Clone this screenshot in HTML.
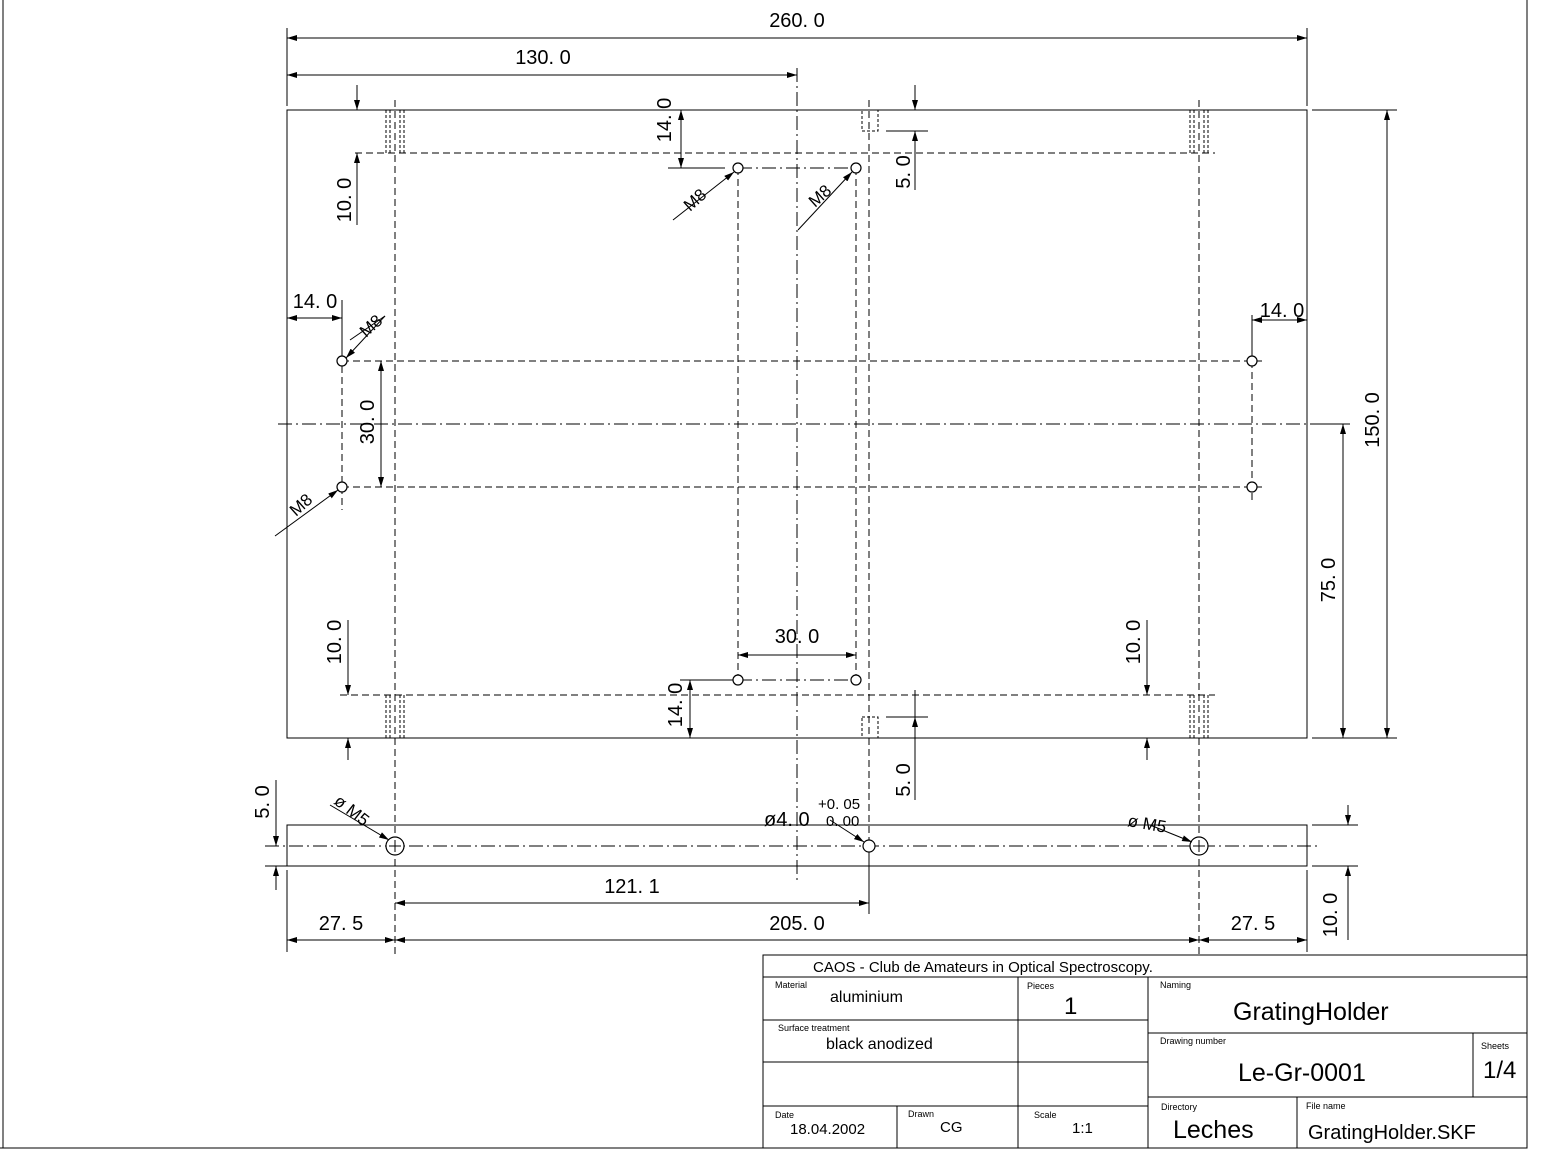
<!DOCTYPE html>
<html><head><meta charset="utf-8"><style>
html,body{margin:0;padding:0;background:#fff;}
svg{display:block;}
text{font-family:"Liberation Sans",sans-serif;fill:#000;}
</style></head><body>
<svg width="1557" height="1172" viewBox="0 0 1557 1172" xmlns="http://www.w3.org/2000/svg">
<defs>
<marker id="a" viewBox="0 0 10 6" refX="10" refY="3" markerWidth="10" markerHeight="6" orient="auto-start-reverse" markerUnits="userSpaceOnUse"><path d="M0,0L10,3L0,6Z" fill="#000"/></marker>
</defs>
<g stroke="#000" stroke-width="1" fill="none">
<!-- frame -->
<line x1="3" y1="0" x2="3" y2="1148"/><line x1="1527" y1="0" x2="1527" y2="1148"/><line x1="0" y1="1148" x2="1527" y2="1148"/>
<!-- title block -->
<rect x="763" y="955" width="764" height="193"/>
<line x1="763" y1="977" x2="1527" y2="977"/>
<line x1="763" y1="1020" x2="1148" y2="1020"/>
<line x1="763" y1="1062" x2="1148" y2="1062"/>
<line x1="763" y1="1106" x2="1148" y2="1106"/>
<line x1="1018" y1="977" x2="1018" y2="1148"/>
<line x1="1148" y1="977" x2="1148" y2="1148"/>
<line x1="897" y1="1106" x2="897" y2="1148"/>
<line x1="1148" y1="1033" x2="1527" y2="1033"/>
<line x1="1148" y1="1097" x2="1527" y2="1097"/>
<line x1="1473" y1="1033" x2="1473" y2="1097"/>
<line x1="1297" y1="1097" x2="1297" y2="1148"/>
<!-- main plate -->
<rect x="287" y="110" width="1020" height="628"/>
<rect x="287" y="825" width="1020" height="41"/>
</g>
<g stroke="#000" stroke-width="1" fill="none" stroke-dasharray="7,4">
<line x1="395" y1="100" x2="395" y2="955"/>
<line x1="1199" y1="100" x2="1199" y2="955"/>
<line x1="738" y1="168" x2="738" y2="680"/>
<line x1="856" y1="168" x2="856" y2="680"/>
<line x1="869" y1="100" x2="869" y2="840"/>
<line x1="355" y1="153" x2="1215" y2="153"/>
<line x1="340" y1="695" x2="1215" y2="695"/>
<line x1="342" y1="361" x2="1262" y2="361"/>
<line x1="342" y1="487" x2="1262" y2="487"/>
<line x1="342" y1="300" x2="342" y2="510"/>
<line x1="1252" y1="350" x2="1252" y2="500"/>
<g stroke-dasharray="3,2">
<line x1="386" y1="110" x2="386" y2="153"/><line x1="390" y1="110" x2="390" y2="153"/><line x1="400" y1="110" x2="400" y2="153"/><line x1="404" y1="110" x2="404" y2="153"/>
<line x1="1190" y1="110" x2="1190" y2="153"/><line x1="1194" y1="110" x2="1194" y2="153"/><line x1="1204" y1="110" x2="1204" y2="153"/><line x1="1208" y1="110" x2="1208" y2="153"/>
<line x1="386" y1="695" x2="386" y2="738"/><line x1="390" y1="695" x2="390" y2="738"/><line x1="400" y1="695" x2="400" y2="738"/><line x1="404" y1="695" x2="404" y2="738"/>
<line x1="1190" y1="695" x2="1190" y2="738"/><line x1="1194" y1="695" x2="1194" y2="738"/><line x1="1204" y1="695" x2="1204" y2="738"/><line x1="1208" y1="695" x2="1208" y2="738"/>
<rect x="862" y="110" width="16" height="21"/>
<rect x="862" y="717" width="16" height="21"/>
</g>
</g>
<g stroke="#000" stroke-width="1" fill="none" stroke-dasharray="14,4,2,4">
<line x1="797" y1="68" x2="797" y2="880"/>
<line x1="278" y1="424" x2="1320" y2="424"/>
<line x1="738" y1="168" x2="856" y2="168"/>
<line x1="738" y1="680" x2="856" y2="680"/>
<line x1="265" y1="846" x2="1320" y2="846"/>
</g>
<!-- holes -->
<g stroke="#000" stroke-width="1.2" fill="#fff">
<circle cx="738" cy="168" r="5"/><circle cx="856" cy="168" r="5"/>
<circle cx="342" cy="361" r="5"/><circle cx="342" cy="487" r="5"/>
<circle cx="1252" cy="361" r="5"/><circle cx="1252" cy="487" r="5"/>
<circle cx="738" cy="680" r="5"/><circle cx="856" cy="680" r="5"/>
<circle cx="395" cy="846" r="9"/><circle cx="869" cy="846" r="6"/><circle cx="1199" cy="846" r="9"/>
</g>
<g stroke="#000" stroke-width="1">
<line x1="389" y1="846" x2="401" y2="846"/><line x1="395" y1="840" x2="395" y2="852"/>
<line x1="1193" y1="846" x2="1205" y2="846"/><line x1="1199" y1="840" x2="1199" y2="852"/>
</g>
<!-- dimensions -->
<g stroke="#000" stroke-width="1" fill="none">
<line x1="287" y1="28" x2="287" y2="106"/><line x1="1307" y1="28" x2="1307" y2="106"/>
<line x1="287" y1="38" x2="1307" y2="38" marker-start="url(#a)" marker-end="url(#a)"/>
<line x1="287" y1="75" x2="797" y2="75" marker-start="url(#a)" marker-end="url(#a)"/>
<line x1="1312" y1="110" x2="1397" y2="110"/><line x1="1312" y1="738" x2="1397" y2="738"/><line x1="1312" y1="424" x2="1350" y2="424"/>
<line x1="1387" y1="110" x2="1387" y2="738" marker-start="url(#a)" marker-end="url(#a)"/>
<line x1="1343" y1="424" x2="1343" y2="738" marker-start="url(#a)" marker-end="url(#a)"/>
<line x1="357" y1="85" x2="357" y2="110" marker-end="url(#a)"/>
<line x1="357" y1="225" x2="357" y2="153" marker-end="url(#a)"/>
<line x1="348" y1="620" x2="348" y2="695" marker-end="url(#a)"/>
<line x1="348" y1="760" x2="348" y2="738" marker-end="url(#a)"/>
<line x1="1147" y1="620" x2="1147" y2="695" marker-end="url(#a)"/>
<line x1="1147" y1="760" x2="1147" y2="738" marker-end="url(#a)"/>
<line x1="681" y1="110" x2="681" y2="168" marker-start="url(#a)" marker-end="url(#a)"/>
<line x1="668" y1="168" x2="725" y2="168"/>
<line x1="915" y1="85" x2="915" y2="110" marker-end="url(#a)"/>
<line x1="915" y1="190" x2="915" y2="131" marker-end="url(#a)"/>
<line x1="886" y1="131" x2="928" y2="131"/>
<line x1="915" y1="800" x2="915" y2="717" marker-end="url(#a)"/>
<line x1="915" y1="690" x2="915" y2="717" />
<line x1="886" y1="717" x2="928" y2="717"/>
<line x1="287" y1="318" x2="342" y2="318" marker-start="url(#a)" marker-end="url(#a)"/>
<line x1="342" y1="300" x2="342" y2="355"/>
<line x1="1252" y1="320" x2="1307" y2="320" marker-start="url(#a)" marker-end="url(#a)"/>
<line x1="1252" y1="315" x2="1252" y2="355"/>
<line x1="381" y1="361" x2="381" y2="487" marker-start="url(#a)" marker-end="url(#a)"/>
<line x1="738" y1="655" x2="856" y2="655" marker-start="url(#a)" marker-end="url(#a)"/>
<line x1="690" y1="680" x2="690" y2="738" marker-start="url(#a)" marker-end="url(#a)"/>
<line x1="680" y1="680" x2="733" y2="680"/>
<line x1="276" y1="780" x2="276" y2="846" marker-end="url(#a)"/>
<line x1="276" y1="890" x2="276" y2="866" marker-end="url(#a)"/>
<line x1="265" y1="866" x2="287" y2="866"/>
<line x1="1348" y1="805" x2="1348" y2="825" marker-end="url(#a)"/>
<line x1="1348" y1="940" x2="1348" y2="866" marker-end="url(#a)"/>
<line x1="1312" y1="825" x2="1358" y2="825"/><line x1="1312" y1="866" x2="1358" y2="866"/>
<line x1="287" y1="870" x2="287" y2="952"/><line x1="1307" y1="870" x2="1307" y2="952"/>
<line x1="869" y1="852" x2="869" y2="914"/>
<line x1="395" y1="903" x2="869" y2="903" marker-start="url(#a)" marker-end="url(#a)"/>
<line x1="287" y1="940" x2="395" y2="940" marker-start="url(#a)" marker-end="url(#a)"/>
<line x1="395" y1="940" x2="1199" y2="940" marker-start="url(#a)" marker-end="url(#a)"/>
<line x1="1199" y1="940" x2="1307" y2="940" marker-start="url(#a)" marker-end="url(#a)"/>
<!-- leaders -->
<line x1="673" y1="220" x2="734" y2="172" marker-end="url(#a)"/>
<line x1="798" y1="230" x2="852" y2="172" marker-end="url(#a)"/>
<line x1="350" y1="340" x2="385" y2="316"/><line x1="385" y1="316" x2="346" y2="358" marker-end="url(#a)"/>
<line x1="275" y1="536" x2="338" y2="490" marker-end="url(#a)"/>
<line x1="330" y1="805" x2="389" y2="840" marker-end="url(#a)"/>
<line x1="830" y1="820" x2="864" y2="842" marker-end="url(#a)"/>
<line x1="1150" y1="825" x2="1192" y2="842" marker-end="url(#a)"/>
</g>
<g font-size="20">
<text x="797" y="27" text-anchor="middle">260. 0</text>
<text x="543" y="64" text-anchor="middle">130. 0</text>
<text x="315" y="308" text-anchor="middle">14. 0</text>
<text x="1282" y="317" text-anchor="middle">14. 0</text>
<text x="797" y="643" text-anchor="middle">30. 0</text>
<text x="632" y="893" text-anchor="middle">121. 1</text>
<text x="341" y="930" text-anchor="middle">27. 5</text>
<text x="797" y="930" text-anchor="middle">205. 0</text>
<text x="1253" y="930" text-anchor="middle">27. 5</text>
<text transform="translate(1379,420) rotate(-90)" text-anchor="middle">150. 0</text>
<text transform="translate(1335,580) rotate(-90)" text-anchor="middle">75. 0</text>
<text transform="translate(351,200) rotate(-90)" text-anchor="middle">10. 0</text>
<text transform="translate(341,642) rotate(-90)" text-anchor="middle">10. 0</text>
<text transform="translate(1140,642) rotate(-90)" text-anchor="middle">10. 0</text>
<text transform="translate(671,120) rotate(-90)" text-anchor="middle">14. 0</text>
<text transform="translate(682,705) rotate(-90)" text-anchor="middle">14. 0</text>
<text transform="translate(910,172) rotate(-90)" text-anchor="middle">5. 0</text>
<text transform="translate(910,780) rotate(-90)" text-anchor="middle">5. 0</text>
<text transform="translate(374,422) rotate(-90)" text-anchor="middle">30. 0</text>
<text transform="translate(269,802) rotate(-90)" text-anchor="middle">5. 0</text>
<text transform="translate(1337,915) rotate(-90)" text-anchor="middle">10. 0</text>
<text x="764" y="826">ø4. 0</text>
<text x="818" y="809" font-size="15">+0. 05</text>
<text x="826" y="826" font-size="15">0. 00</text>
<g font-size="17">
<text transform="translate(690,212) rotate(-42)">M8</text>
<text transform="translate(815,208) rotate(-42)">M8</text>
<text transform="translate(366,338) rotate(-42)">M8</text>
<text transform="translate(296,517) rotate(-42)">M8</text>
<text transform="translate(333,803) rotate(38)">ø M5</text>
<text transform="translate(1127,826) rotate(10)">ø M5</text>
</g>
</g>
<!-- title text -->
<g>
<text x="813" y="972" font-size="15">CAOS - Club de Amateurs in Optical Spectroscopy.</text>
<text x="775" y="988" font-size="9">Material</text>
<text x="830" y="1002" font-size="16">aluminium</text>
<text x="1027" y="989" font-size="9">Pieces</text>
<text x="1064" y="1014" font-size="24">1</text>
<text x="1160" y="988" font-size="9">Naming</text>
<text x="1233" y="1020" font-size="25">GratingHolder</text>
<text x="778" y="1031" font-size="9">Surface treatment</text>
<text x="826" y="1049" font-size="16">black anodized</text>
<text x="1160" y="1044" font-size="9">Drawing number</text>
<text x="1238" y="1081" font-size="25">Le-Gr-0001</text>
<text x="1481" y="1049" font-size="9">Sheets</text>
<text x="1483" y="1078" font-size="24">1/4</text>
<text x="775" y="1118" font-size="9">Date</text>
<text x="790" y="1134" font-size="15">18.04.2002</text>
<text x="908" y="1117" font-size="9">Drawn</text>
<text x="940" y="1132" font-size="15">CG</text>
<text x="1034" y="1118" font-size="9">Scale</text>
<text x="1072" y="1133" font-size="15">1:1</text>
<text x="1161" y="1110" font-size="9">Directory</text>
<text x="1173" y="1138" font-size="25">Leches</text>
<text x="1306" y="1109" font-size="9">File name</text>
<text x="1308" y="1139" font-size="20">GratingHolder.SKF</text>
</g>
</svg>
</body></html>
